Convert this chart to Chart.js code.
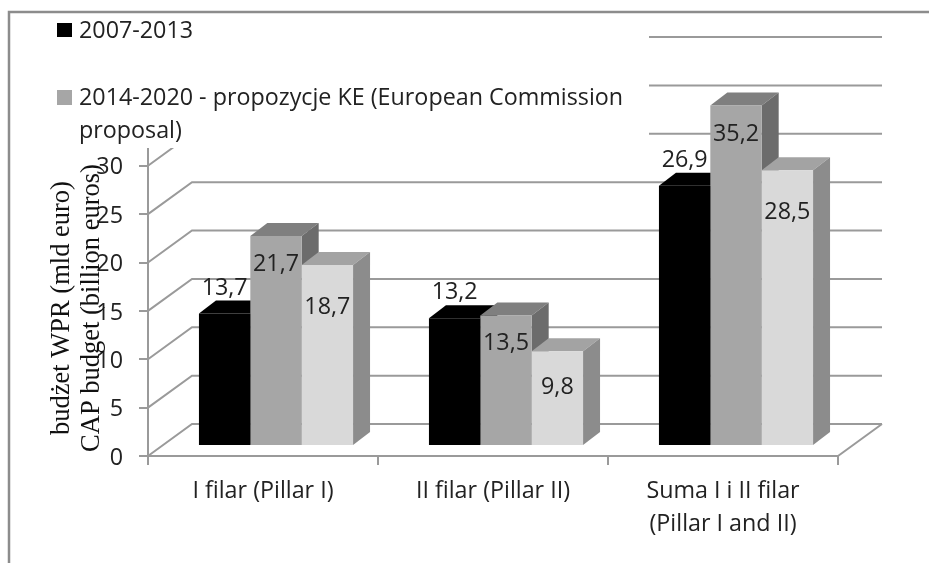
<!DOCTYPE html>
<html>
<head>
<meta charset="utf-8">
<style>
  html, body { margin: 0; padding: 0; background: #fff; overflow: hidden; }
  canvas { display: block; }
</style>
<script src="https://cdn.jsdelivr.net/npm/chart.js@4"></script>
</head>
<body>
<canvas id="capChart" width="929" height="563"></canvas>
<script>
const categories = ['I filar (Pillar I)', 'II filar (Pillar II)', ['Suma I i II filar', '(Pillar I and II)']];
const budget2007 = [13.7, 13.2, 26.9];
const proposalKE = [21.7, 13.5, 35.2];
const proposalOther = [18.7, 9.8, 28.5];
const legendBlack = ['2007-2013'];
const legendGray = ['2014-2020 - propozycje KE (European Commission', 'proposal)'];
const yTitle = ['budżet WPR (mld euro)', 'CAP budget (billion euros)'];

const TEXT = '#222';
const LINE = '#9a9a9a';
const FONT = '"Open Sans", sans-serif';
const FONT_SIZE = 23.3;

// oblique offsets of the fake 3D box
const WALL = { dx: 44, dy: -32 };
const BAR_SHIFT = { dx: 13, dy: -10 };
const BAR_DEPTH = { dx: 17, dy: -13 };

// vertical place of each value label, from the top of its bar
const labelNudge = [[-25, -26, -25], [28, 28, 29], [42, 36, 42]];

const sideColors = [
  { top: '#000000', side: '#000000' },
  { top: '#7f7f7f', side: '#6c6c6c' },
  { top: '#a3a3a3', side: '#8c8c8c' }
];

const frameAndWalls = {
  id: 'frameAndWalls',
  beforeDatasetsDraw(chart) {
    const { ctx, scales: { x, y } } = chart;
    const left = x.left, right = x.right;
    ctx.save();
    ctx.strokeStyle = LINE;
    ctx.lineWidth = 2;
    y.ticks.forEach(t => {
      const py = y.getPixelForValue(t.value);
      ctx.beginPath();
      ctx.moveTo(left, py);
      ctx.lineTo(left + WALL.dx, py + WALL.dy);
      ctx.lineTo(right + WALL.dx, py + WALL.dy);
      ctx.stroke();
    });
    const y0 = y.getPixelForValue(0);
    ctx.beginPath();
    ctx.moveTo(right, y0);
    ctx.lineTo(right + WALL.dx, y0 + WALL.dy);
    ctx.stroke();
    ctx.restore();

    // bars stand a bit inside the floor
    ctx.save();
    ctx.translate(BAR_SHIFT.dx, BAR_SHIFT.dy);

    // tops and sides left to right, the fronts go over them afterwards
    const d = BAR_DEPTH;
    chart.data.datasets.forEach((ds, s) => {
      const colors = sideColors[s];
      chart.getDatasetMeta(s).data.forEach(bar => {
        const l = bar.x - bar.width / 2;
        const r = bar.x + bar.width / 2;
        ctx.fillStyle = colors.top;
        ctx.beginPath();
        ctx.moveTo(l, bar.y);
        ctx.lineTo(l + d.dx, bar.y + d.dy);
        ctx.lineTo(r + d.dx, bar.y + d.dy);
        ctx.lineTo(r, bar.y);
        ctx.closePath();
        ctx.fill();
        ctx.fillStyle = colors.side;
        ctx.beginPath();
        ctx.moveTo(r, bar.y);
        ctx.lineTo(r + d.dx, bar.y + d.dy);
        ctx.lineTo(r + d.dx, bar.base + d.dy);
        ctx.lineTo(r, bar.base);
        ctx.closePath();
        ctx.fill();
      });
    });
  },
  afterDatasetsDraw(chart) {
    const { ctx, data } = chart;
    // value labels, still inside the bar shift
    ctx.font = FONT_SIZE + 'px ' + FONT;
    ctx.fillStyle = TEXT;
    ctx.textAlign = 'center';
    ctx.textBaseline = 'middle';
    data.datasets.forEach((ds, s) => {
      chart.getDatasetMeta(s).data.forEach((bar, i) => {
        const txt = ds.data[i].toFixed(1).replace('.', ',');
        ctx.fillText(txt, bar.x, bar.y + labelNudge[s][i]);
      });
    });
    ctx.restore();
  },
  afterDraw(chart) {
    const { ctx } = chart;
    ctx.save();
    // legend box sits over the top of the plot
    ctx.fillStyle = '#fff';
    ctx.fillRect(12, 15, 637, 133);
    ctx.fillStyle = '#000000';
    ctx.fillRect(57, 23, 15, 14);
    ctx.fillStyle = '#a6a6a6';
    ctx.fillRect(57, 90, 15, 15);
    ctx.font = FONT_SIZE + 'px ' + FONT;
    ctx.fillStyle = TEXT;
    ctx.textAlign = 'left';
    ctx.textBaseline = 'middle';
    ctx.fillText(legendBlack[0], 79, 31);
    ctx.fillText(legendGray[0], 79, 98);
    ctx.fillText(legendGray[1], 79, 131);

    // outer frame
    ctx.strokeStyle = '#8c8c8c';
    ctx.lineWidth = 2.5;
    ctx.beginPath();
    ctx.moveTo(9, 563);
    ctx.lineTo(9, 12);
    ctx.lineTo(929, 12);
    ctx.stroke();

    // axis title overlaps the tick labels in the original
    ctx.translate(0, 308);
    ctx.rotate(-Math.PI / 2);
    ctx.font = '26.5px "Liberation Serif", serif';
    ctx.fillStyle = '#111';
    ctx.textAlign = 'center';
    ctx.fillText(yTitle[0], 0, 62);
    ctx.fillText(yTitle[1], 0, 92);
    ctx.restore();
  }
};

new Chart(document.getElementById('capChart'), {
  type: 'bar',
  data: {
    labels: categories,
    datasets: [
      { label: legendBlack[0], data: budget2007, backgroundColor: '#000000' },
      { label: legendGray.join(' '), data: proposalKE, backgroundColor: '#a6a6a6' },
      { label: '', data: proposalOther, backgroundColor: '#d9d9d9' }
    ]
  },
  plugins: [frameAndWalls],
  options: {
    responsive: false,
    animation: false,
    layout: { padding: { left: 0, top: 69, right: 91, bottom: 0 } },
    datasets: { bar: { categoryPercentage: 0.67, barPercentage: 1, clip: false } },
    plugins: { legend: { display: false }, tooltip: { enabled: false } },
    scales: {
      x: {
        afterFit(scale) { scale.height = 107; },
        grid: { drawOnChartArea: false, color: LINE, lineWidth: 2, tickLength: 9 },
        border: { color: LINE, width: 2 },
        ticks: { color: TEXT, font: { family: FONT, size: FONT_SIZE, lineHeight: 1.42 }, padding: 10, maxRotation: 0 }
      },
      y: {
        min: 0,
        max: 40,
        afterFit(scale) { scale.width = 148; },
        grid: { drawOnChartArea: false, color: LINE, lineWidth: 2, tickLength: 9 },
        border: { color: LINE, width: 2 },
        ticks: { stepSize: 5, color: TEXT, font: { family: FONT, size: FONT_SIZE }, padding: 16, labelOffset: 2 }
      }
    }
  }
});
</script>
</body>
</html>
